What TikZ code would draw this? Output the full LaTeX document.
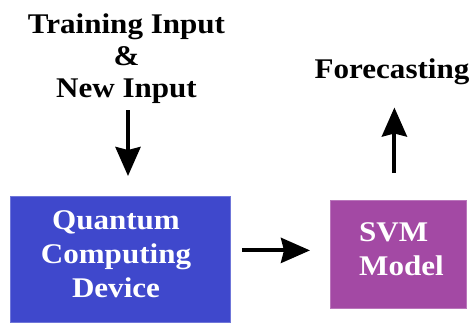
\documentclass[tikz,border=0pt]{standalone}
\usepackage{fontspec}
\setmainfont{Liberation Serif}
\usetikzlibrary{arrows.meta}
\definecolor{qblue}{RGB}{63,72,204}
\definecolor{svmpurple}{RGB}{163,73,164}
\begin{document}
\begin{tikzpicture}[x=1pt,y=-1pt,
  lbl/.style={font=\fontsize{28.5}{31.7}\selectfont\bfseries, align=center, inner sep=0pt, xscale=1.09, transform shape},
  wlbl/.style={inner sep=0pt, text=white, font=\fontsize{28.5}{34}\selectfont\bfseries, xscale=1.09, transform shape},
  box/.style={draw=#1!75!white, line width=0.8pt, fill=#1, inner sep=0pt, anchor=north west},
  arr/.style={line width=4pt, -{Stealth[length=29pt,width=25pt,inset=3pt]}}]
\useasboundingbox (0,0) rectangle (472,322);
\node[box=qblue, minimum width=220pt, minimum height=126pt] (qc) at (10,196) {};
\node[box=svmpurple, minimum width=136pt, minimum height=108pt] (svm) at (330,200) {};
\node[wlbl, align=center] (qct) at (116,254) {Quantum\\Computing\\Device};
\node[wlbl, align=left, anchor=west] (svmt) at (359,249.5) {SVM\\Model};
\node[lbl] (train) at (126.5,58.5) {Training Input\\\&\\New Input};
\node[lbl, anchor=base] (fc) at (392,78) {Forecasting};
\draw[arr, shorten <=7pt, shorten >=20pt] ([xshift=1.5pt]train.south) -- ([xshift=1.5pt]train.south |- qc.north);
\draw[arr, shorten <=11pt, shorten >=20pt] ([yshift=4pt]qc.east |- svm.west) -- ([yshift=4pt]svm.west);
\draw[arr, shorten <=27pt, shorten >=23pt] ([xshift=-4pt]svm.north) -- ([xshift=-4pt]svm.north |- fc.south);
\end{tikzpicture}
\end{document}
